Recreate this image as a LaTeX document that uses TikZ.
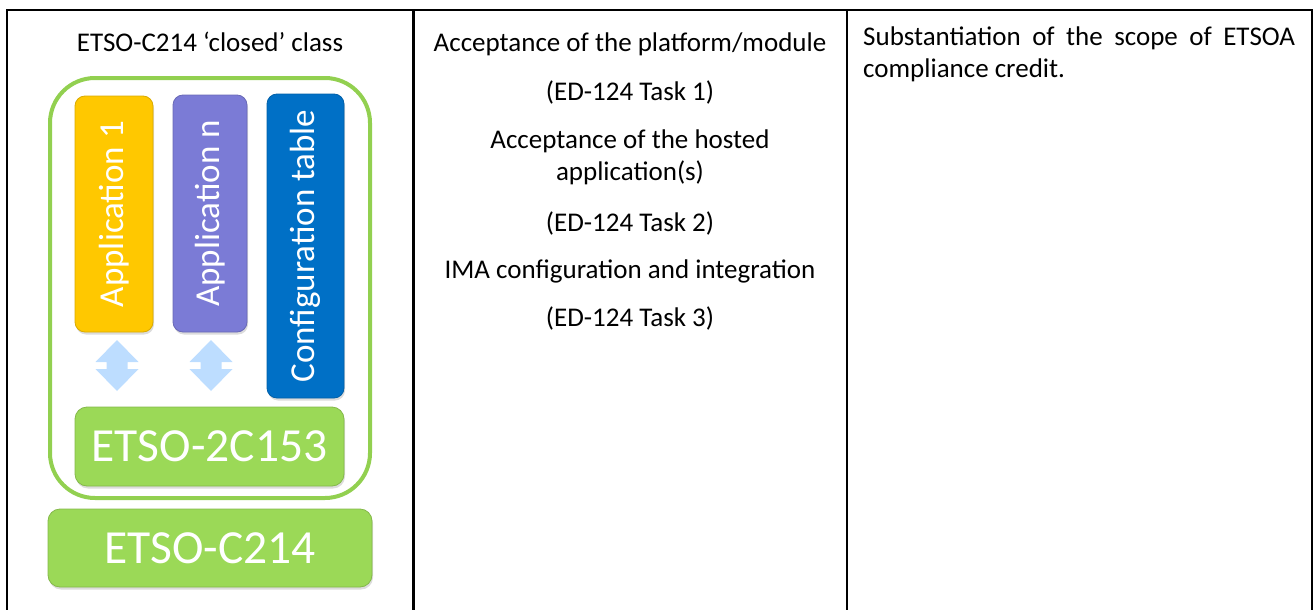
\documentclass[tikz,border=0pt]{standalone}
\usepackage{fontspec}
\setmainfont{Carlito}
\usetikzlibrary{shadows}
\definecolor{appyellow}{RGB}{255,200,0}
\definecolor{apppurple}{RGB}{123,123,214}
\definecolor{appblue}{RGB}{0,112,198}
\definecolor{boxgreen}{RGB}{155,217,87}
\definecolor{framegreen}{RGB}{146,208,80}
\definecolor{arrowblue}{RGB}{189,221,255}
\tikzset{
  tableline/.style={line width=2.5pt, black},
  txt/.style={font=\fontsize{27}{32}\selectfont, inner sep=0pt, text=black},
  blockbox/.style={rounded corners=#1, inner sep=0pt, outer sep=0pt, text=white,
    line width=0.8pt, drop shadow={shadow xshift=1pt, shadow yshift=-2.5pt, opacity=0.28}},
  blockbox/.default=10pt,
  vlabel/.style={font=\fontsize{35}{40}\selectfont},
  biglabel/.style={font=\fontsize{47.5}{52}\selectfont},
  blockarrow/.style={fill=arrowblue, draw=none},
}
\begin{document}
\begin{tikzpicture}[x=1pt,y=-1pt]
\useasboundingbox (0,0) rectangle (1314,610);
% table
\draw[tableline] (7,610) -- (7,10) -- (1312,10) -- (1312,610);
\draw[tableline] (413.5,10) -- (413.5,610);
\draw[tableline] (847,10) -- (847,610);
% left column
\node[txt, anchor=base] (title) at (210,52) {ETSO-C214 ‘closed’ class};
\node[draw=framegreen, line width=4pt, rounded corners=45pt, minimum width=320pt,
      minimum height=420pt, inner sep=0pt, outer sep=0pt] (closed) at (210,288) {};
\node[blockbox, fill=appyellow, draw=appyellow!85!black, minimum width=78pt, minimum height=236pt, vlabel]
  (app1) at (114,214) {\rotatebox{90}{Application 1}};
\node[blockbox, fill=apppurple, draw=apppurple!85!black, minimum width=74pt, minimum height=237pt, vlabel]
  (appn) at (210,213.5) {\rotatebox{90}{Application n}};
\node[blockbox, fill=appblue, draw=appblue!85!black, minimum width=77pt, minimum height=304pt, vlabel]
  (config) at (305.5,246) {\rotatebox{90}{Configuration table}};
\node[blockbox=12pt, fill=boxgreen, draw=boxgreen!85!black, minimum width=269pt, minimum height=79pt, biglabel]
  (etsoa) at (209.5,446.5) {ETSO-2C153};
\node[blockbox=12pt, fill=boxgreen, draw=boxgreen!85!black, minimum width=324pt, minimum height=78pt, biglabel]
  (etsob) at (210,548) {ETSO-C214};
% block arrows
\foreach \cx in {117,211}{
  \fill[blockarrow] (\cx,365.5) ++(0,-25.5) -- ++(21.5,22) -- ++(-11,0) -- ++(0,7) -- ++(11,0)
    -- ++(-21.5,22) -- ++(-21.5,-22) -- ++(11,0) -- ++(0,-7) -- ++(-11,0) -- cycle;
}
% middle column
\node[txt, anchor=base] (m1) at (630,52) {Acceptance of the platform/module};
\node[txt, anchor=base] (m2) at (630,100) {(ED-124 Task 1)};
\node[txt, anchor=base, align=center] (m3) at (630,180) {Acceptance of the hosted\\application(s)};
\node[txt, anchor=base] (m4) at (630,231) {(ED-124 Task 2)};
\node[txt, anchor=base] (m5) at (630,278) {IMA configuration and integration};
\node[txt, anchor=base] (m6) at (630,326) {(ED-124 Task 3)};
% right column
\node[txt, anchor=base west, text width=432pt, align=justify] (r1) at (863,45.7)
  {\tolerance=10000 Substantiation of the scope of ETSOA compliance credit.};
\end{tikzpicture}
\end{document}
